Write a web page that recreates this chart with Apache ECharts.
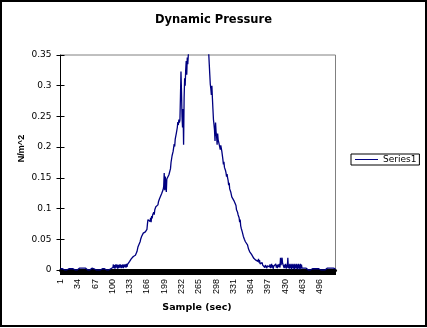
<!DOCTYPE html>
<html>
<head>
<meta charset="utf-8">
<script src="https://cdn.jsdelivr.net/npm/echarts@6/dist/echarts.min.js"></script>
<style>
  html, body { margin: 0; padding: 0; background: #fff; }
  #chart { width: 427px; height: 328px; }
</style>
</head>
<body>
<div id="chart"></div>
<script>
// Dynamic pressure readings (N/m^2), one value per sample, in order.

// samples 1-100: quiet baseline
const baselineHead = [
  0.002, 0, 0.003, 0, 0.002, 0.003, 0, 0.002, 0, 0.003,
  0, 0.002, 0, 0.003, 0.002, 0, 0.002, 0, 0.003, 0,
  0.002, 0, 0.003, 0, 0.002, 0, 0.003, 0.002, 0, 0.002,
  0, 0.003, 0, 0.002, 0, 0.002, 0.003, 0, 0.002, 0,
  0.003, 0, 0.002, 0, 0.003, 0, 0.002, 0, 0.003, 0.002,
  0, 0.002, 0, 0.003, 0, 0.002, 0, 0.003, 0, 0.002,
  0.003, 0, 0.002, 0, 0.002, 0.003, 0, 0.002, 0, 0.003,
  0, 0.002, 0, 0.003, 0, 0.002, 0, 0.002, 0.003, 0,
  0.002, 0, 0.003, 0, 0.002, 0.004, 0.005, 0.003, 0, 0.002,
  0, 0.003, 0, 0.002, 0, 0.003, 0.002, 0, 0.003, 0.002
];

// samples 101-251: rising side
const riseSide = [
  0.004, 0.009, 0.003, 0.008, 0.002, 0.009, 0.004, 0.003, 0.009, 0.002,
  0.008, 0.003, 0.009, 0.004, 0.002, 0.009, 0.003, 0.008, 0.004, 0.009,
  0.003, 0.009, 0.005, 0.003, 0.009, 0.004, 0.010, 0.005, 0.009, 0.006,
  0.011, 0.008, 0.014,
  0.016, 0.011, 0.018, 0.015, 0.019, 0.017,
  0.022, 0.024, 0.020, 0.025, 0.024, 0.027, 0.025, 0.030,
  0.033, 0.038, 0.035, 0.041, 0.039,
  0.046, 0.050, 0.048, 0.055, 0.052, 0.058,
  0.060, 0.057, 0.063, 0.059, 0.062, 0.065, 0.063, 0.066,
  0.075, 0.082, 0.082, 0.080, 0.082, 0.079,
  0.085, 0.078, 0.088, 0.084, 0.090, 0.087, 0.094, 0.090, 0.098,
  0.097, 0.103, 0.100, 0.104, 0.101, 0.106,
  0.111, 0.108, 0.116, 0.113, 0.120, 0.118, 0.124, 0.121, 0.127, 0.131,
  0.136, 0.158, 0.130, 0.152, 0.140, 0.127, 0.148, 0.145, 0.150, 0.146, 0.155, 0.152, 0.158,
  0.165, 0.175, 0.172, 0.186, 0.183, 0.193,
  0.196, 0.205, 0.201, 0.213, 0.210, 0.222, 0.219,
  0.232, 0.241, 0.236, 0.245, 0.240, 0.244,
  0.282, 0.323, 0.290, 0.250, 0.232,
  0.262, 0.204, 0.280, 0.312, 0.300,
  0.325, 0.340, 0.318, 0.346, 0.335, 0.350,
  0.356, 0.352, 0.357, 0.354, 0.358, 0.365
];

// samples 252-282: peak, above the 0.35 axis limit
const peakTop = [
  0.372, 0.381, 0.378, 0.390, 0.386, 0.398, 0.394, 0.405, 0.399, 0.411,
  0.404, 0.415, 0.409, 0.418, 0.412, 0.420, 0.414, 0.417, 0.410, 0.413,
  0.405, 0.408, 0.399, 0.402, 0.393, 0.395, 0.386, 0.388, 0.378, 0.372,
  0.365
];

// samples 283-388: falling side
const fallSide = [
  0.358, 0.352, 0.335, 0.318, 0.302,
  0.295, 0.285, 0.300, 0.280,
  0.262, 0.245, 0.237,
  0.228, 0.210, 0.240, 0.225,
  0.218, 0.204, 0.222, 0.212, 0.208, 0.204,
  0.200, 0.196, 0.203, 0.198, 0.193, 0.190,
  0.180, 0.172, 0.176, 0.167, 0.170, 0.162,
  0.158, 0.152, 0.156, 0.150,
  0.146, 0.138, 0.142, 0.132, 0.135, 0.127,
  0.124, 0.119, 0.122, 0.116, 0.118, 0.113, 0.115, 0.110, 0.112,
  0.105, 0.098, 0.101, 0.094, 0.090, 0.087,
  0.085, 0.078, 0.082, 0.072, 0.068, 0.070, 0.062,
  0.060, 0.055, 0.058, 0.050, 0.052, 0.046, 0.048, 0.043, 0.045, 0.041,
  0.038, 0.034, 0.036, 0.030, 0.032, 0.027, 0.029, 0.025, 0.024,
  0.022, 0.024, 0.019, 0.021, 0.018, 0.020, 0.016, 0.019, 0.017, 0.016,
  0.014, 0.018, 0.012, 0.016, 0.010, 0.013, 0.011, 0.009, 0.012, 0.008, 0.010
];

// samples 389-463: low noisy tail
const tailNoise = [
  0.006, 0.010, 0.004, 0.008, 0.005, 0.009, 0.003, 0.007, 0.010, 0.004, 0.008, 0.005,
  0.009, 0.003, 0.006, 0.010, 0.004, 0.008, 0.002, 0.006, 0.009, 0.003,
  0.007, 0.010, 0.004, 0.008, 0.003, 0.009, 0.005, 0.006, 0.010, 0.004,
  0.020, 0.008, 0.011, 0.020, 0.011, 0.010, 0.011, 0.003, 0.009, 0.004,
  0.010, 0.002, 0.008, 0.004, 0.020, 0.003, 0.009, 0.002, 0.010, 0.003,
  0.009, 0.001, 0.010, 0.003, 0.009, 0.002, 0.010, 0.001, 0.009, 0.003,
  0.010, 0.002, 0.009, 0.001, 0.010, 0.003, 0.009, 0.001, 0.010, 0.002, 0.009, 0.003, 0.002
];

// samples 464-526: quiet baseline
const baselineTail = [
  0.002, 0, 0.003, 0, 0.002, 0, 0.003, 0, 0.002, 0.003,
  0, 0.002, 0, 0.003, 0, 0.002, 0, 0.003, 0.002, 0,
  0.003, 0, 0.002, 0, 0.003, 0, 0.002, 0, 0.003, 0,
  0.002, 0, 0.003, 0.002, 0, 0.003, 0, 0.002, 0, 0.003,
  0, 0.002, 0, 0.003, 0, 0.002, 0.003, 0, 0.002, 0,
  0.003, 0, 0.002, 0, 0.003, 0, 0.002, 0, 0.003, 0, 0.002, 0, 0.002
];

const pressure = [].concat(baselineHead, riseSide, peakTop, fallSide, tailNoise, baselineTail);

// category labels: sample numbers starting at 1
const samples = pressure.map((v, i) => String(i + 1));

const yMin = 0;
const yMax = 0.35;
const yStep = 0.05;
const xLabelEvery = 33;

const chart = echarts.init(document.getElementById('chart'), null, { renderer: 'canvas' });

chart.setOption({
  animation: false,
  backgroundColor: '#ffffff',
  title: {
    text: 'Dynamic Pressure',
    left: 'center',
    top: 14,
    padding: 0,
    textStyle: { fontFamily: 'DejaVu Sans', fontSize: 11.5, fontWeight: 'bold', color: '#000' }
  },
  legend: {
    left: 351,
    top: 154,
    orient: 'vertical',
    padding: [1, 3, 1, 4],
    borderColor: '#000',
    borderWidth: 1,
    itemWidth: 23,
    itemHeight: 1,
    icon: 'rect',
    textStyle: { fontFamily: 'DejaVu Sans', fontSize: 9, color: '#000' },
    data: ['Series1']
  },
  grid: {
    left: 60.5,
    right: 91.5,
    top: 55,
    bottom: 58,
    show: true,
    borderColor: '#808080',
    borderWidth: 1,
    backgroundColor: 'transparent'
  },
  xAxis: {
    type: 'category',
    data: samples,
    boundaryGap: false,
    axisLine: { lineStyle: { color: '#000', width: 3 } },
    axisTick: { interval: 0, length: 5, lineStyle: { color: '#000', width: 1 } },
    axisLabel: {
      interval: xLabelEvery - 1,
      rotate: 90,
      margin: 9,
      color: '#000',
      fontFamily: 'Liberation Sans Narrow, Liberation Sans',
      fontSize: 9
    },
    splitLine: { show: false }
  },
  yAxis: [
    {
      type: 'value',
      min: yMin,
      max: yMax,
      interval: yStep,
      axisLine: { show: true, lineStyle: { color: '#000', width: 1 } },
      axisTick: { show: true, length: 4, lineStyle: { color: '#000' } },
      axisLabel: { margin: 9, color: '#000', fontFamily: 'DejaVu Sans', fontSize: 9 },
      splitLine: { show: false }
    },
    {
      type: 'value',
      position: 'left',
      offset: 0,
      min: yMin,
      max: yMax,
      interval: yStep,
      axisLine: { show: false },
      axisTick: { show: true, inside: true, length: 4, lineStyle: { color: '#000' } },
      axisLabel: { show: false },
      splitLine: { show: false }
    }
  ],
  series: [{
    name: 'Series1',
    type: 'line',
    data: pressure,
    symbol: 'none',
    showSymbol: false,
    clip: true,
    z: 3,
    lineStyle: { color: '#000080', width: 1.3 },
    itemStyle: { color: '#000080' }
  }],
  graphic: [
    {
      type: 'rect',
      silent: true,
      shape: { x: 1, y: 1, width: 425, height: 325 },
      style: { fill: null, stroke: '#000', lineWidth: 2 }
    },
    {
      type: 'text',
      silent: true,
      x: 22,
      y: 148.5,
      rotation: Math.PI / 2,
      style: {
        text: 'N/m^2',
        font: 'bold 9px "Liberation Sans"',
        fill: '#000',
        textAlign: 'center',
        textVerticalAlign: 'middle',
        verticalAlign: 'middle'
      }
    },
    {
      type: 'text',
      silent: true,
      x: 197,
      y: 307.5,
      style: {
        text: 'Sample (sec)',
        font: 'bold 9.5px "DejaVu Sans"',
        fill: '#000',
        textAlign: 'center',
        textVerticalAlign: 'middle',
        verticalAlign: 'middle'
      }
    }
  ]
});
</script>
</body>
</html>
